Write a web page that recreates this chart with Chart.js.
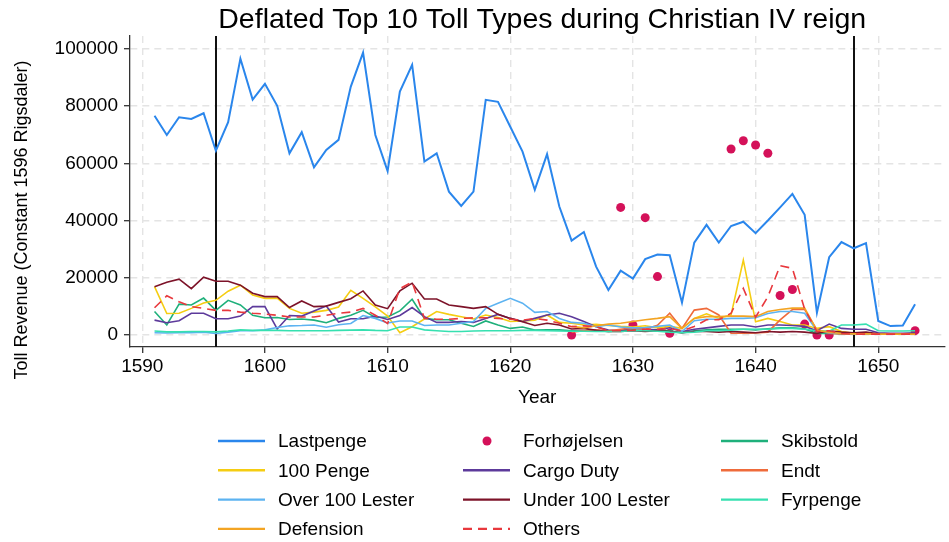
<!doctype html>
<html lang="en">
<head>
  <meta charset="UTF-8">
  <title>Toll Types</title>
  <script src="https://cdn.jsdelivr.net/npm/chart.js"></script>
  <style>
    html, body {
      margin: 0;
      padding: 0;
      background: #fff;
    }

    #chart_01 {
      display: block;
    }
  </style>
</head>
<body>
  <canvas id="chart_01" width="949" height="542"></canvas>
  <script type="application/javascript">
    const years = [
      1591, 1592, 1593, 1594, 1595, 1596, 1597, 1598, 1599, 1600,
      1601, 1602, 1603, 1604, 1605, 1606, 1607, 1608, 1609, 1610,
      1611, 1612, 1613, 1614, 1615, 1616, 1617, 1618, 1619, 1620,
      1621, 1622, 1623, 1624, 1625, 1626, 1627, 1628, 1629, 1630,
      1631, 1632, 1633, 1634, 1635, 1636, 1637, 1638, 1639, 1640,
      1641, 1642, 1643, 1644, 1645, 1646, 1647, 1648, 1649, 1650,
      1651, 1652, 1653
    ]

    const x_ticks = [1590, 1600, 1610, 1620, 1630, 1640, 1650]
    const y_ticks = [0, 20000, 40000, 60000, 80000, 100000]
    const reign_years = [1596, 1648]

    const lastpenge = [
      76600, 69900, 76100, 75500, 77500, 64400, 74400, 96600, 82300, 87800,
      80100, 63500, 70900, 58600, 64700, 68200, 86800, 98700, 69900, 57300,
      85100, 94400, 60600, 63500, 50100, 45100, 50100, 82200, 81500, 72800,
      64100, 50700, 63200, 44900, 33000, 36000, 23900, 15700, 22500, 19700,
      26500, 28100, 27900, 11300, 32300, 38500, 32300, 38100, 39600, 35600,
      40000, 44600, 49300, 42000, 7800, 27200, 32500, 30300, 32100, 4900,
      3100, 3300, 10700
    ]

    const forhojelsen = [
      null, null, null, null, null, null, null, null, null, null,
      null, null, null, null, null, null, null, null, null, null,
      null, null, null, null, null, null, null, null, null, null,
      null, null, null, null, 0, null, null, null, 44600, 3500,
      41000, 20400, 600, null, null, null, null, 65000, 67900, 66400,
      63500, 13800, 15900, 3800, 0, 0, null, null, null, null,
      null, null, 1500
    ]

    const skibstold = [
      8200, 3500, 10800, 10500, 12900, 8600, 12100, 10500, 6900, 6000,
      6100, 5400, 5600, 5200, 4300, 5800, 6900, 8600, 6100, 6300,
      8400, 12500, 5800, 5300, 5300, 4100, 3000, 4900, 3500, 2300,
      2800, 1700, 1800, 1800, 1500, 1500, 1500, 1200, 1500, 1800,
      1500, 1800, 1500, 800, 1500, 1800, 2000, 2000, 2000, 1800,
      2200, 2500, 2500, 2200, 500, 600, 400, 400, 300, 300,
      300, 300, 300
    ]

    const penge_100 = [
      16900, 7500, 7600, 9300, 11200, 12100, 15300, 17400, 14000, 12800,
      12900, 9300, 7600, 8000, 8600, 9800, 15600, 12800, 9800, 6600,
      800, 2900, 5600, 8200, 7200, 6400, 5600, 7000, 6100, 4700,
      4900, 5200, 7000, 4400, 4100, 3500, 3700, 3300, 3000, 2800,
      3200, 2500, 3000, 2300, 5800, 7400, 5800, 7000, 26200, 4600,
      5800, 4700, 3500, 3500, 2300, 2900, 1200, 600, 500, 400,
      400, 400, 500
    ]

    const cargo_duty = [
      5200, 4300, 5000, 7600, 7600, 5700, 5700, 6600, 9900, 9900,
      2100, 6800, 6600, 8400, 10100, 4500, 5700, 5700, 6600, 5400,
      6800, 9600, 6400, 4400, 4400, 4700, 4400, 5800, 7200, 5800,
      4700, 5800, 7000, 7600, 6400, 4700, 2900, 1700, 1500, 2500,
      2000, 1800, 2500, 1200, 2000, 2500, 3000, 3500, 3500, 2800,
      3500, 3500, 3300, 3000, 1500, 3800, 2300, 2000, 2000, 800,
      600, 600, 800
    ]

    const endt = [
      null, null, null, null, null, null, null, null, null, null,
      null, null, null, null, null, null, null, null, null, null,
      null, null, null, null, null, null, null, null, null, null,
      null, null, null, null, 1000, 1500, 1800, 1500, 2000, 2500,
      2000, 3400, 7600, 2300, 8700, 9300, 7000, 600, 600, 700,
      1000, 5300, 8900, 8900, 1800, 600, 400, 300, 300, 300,
      300, 300, 300
    ]

    const over_100_lester = [
      800, 700, 800, 800, 1000, 500, 1000, 1500, 1500, 1800,
      2600, 3200, 3300, 3500, 2700, 3600, 4000, 6800, 5800, 4200,
      4900, 4900, 3300, 3500, 3500, 4100, 4700, 9300, 11100, 12800,
      11100, 7900, 8200, 5800, 4400, 4100, 2900, 3500, 2800, 2500,
      2600, 3000, 3500, 1200, 5000, 5500, 5500, 5800, 5800, 6000,
      7500, 8200, 8200, 7600, 1500, 800, 500, 400, 400, 300,
      300, 300, 400
    ]

    const under_100_lester = [
      16900, 18400, 19500, 16200, 20200, 18800, 18800, 17400, 14600, 13400,
      13400, 9600, 11900, 9900, 10100, 11400, 12700, 15400, 10500, 9200,
      15400, 18100, 12600, 12600, 10500, 9900, 9300, 9900, 7200, 5800,
      4600, 3300, 4100, 3500, 2100, 2300, 1600, 1200, 1200, 1500,
      1200, 1500, 1200, 800, 1200, 1200, 1000, 1200, 1000, 800,
      1200, 1000, 1200, 1000, 500, 1500, 1000, 800, 1000, 400,
      300, 300, 400
    ]

    const fyrpenge = [
      1400, 1100, 1100, 1200, 1200, 1100, 1400, 1800, 1600, 1600,
      1600, 1500, 1500, 1500, 1500, 1600, 1700, 1800, 1600, 1500,
      2800, 2800, 1800, 1500, 1200, 1200, 1400, 1500, 1500, 1500,
      1600, 1600, 1500, 1400, 1300, 1300, 1200, 1200, 1200, 1500,
      1500, 1300, 1000, 800, 1000, 1500, 1500, 1700, 2000, 2000,
      2000, 2300, 2300, 2000, 1500, 1300, 3500, 3500, 3800, 1500,
      1400, 1400, 1500
    ]

    const defension = [
      null, null, null, null, null, null, null, null, null, null,
      null, null, null, null, null, null, null, null, null, null,
      null, null, null, null, null, null, null, null, null, null,
      null, null, null, null, 3000, 2500, 3200, 3800, 4100, 4700,
      5300, 5800, 6400, 2300, 5800, 6400, 6400, 6600, 6600, 6400,
      8200, 8900, 9400, 9400, 1600, 1000, 500, 400, 400, 300,
      300, 300, 300
    ]

    const others = [
      9500, 13700, 11600, 9900, 9300, 8600, 8600, 8000, 7600, 7300,
      6900, 6300, 6300, 6300, 6900, 7600, 8000, 9300, 6900, 4000,
      16200, 18500, 5800, 5500, 5500, 5800, 6000, 6000, 5800, 5500,
      5200, 5800, 5200, 4100, 2900, 3200, 2900, 1500, 1500, 1700,
      2000, 2000, 2300, 1500, 3000, 5300, 5300, 7600, 16300, 6200,
      13400, 24200, 23300, 9000, 1200, 1500, 500, 300, 300, 300,
      300, 300, 300
    ]

    const font_family = '"Liberation Sans", Arial, sans-serif'
    const chart_title = 'Deflated Top 10 Toll Types during Christian IV reign'
    const y_title = 'Toll Revenue (Constant 1596 Rigsdaler)'

    // plotted in this order; the legend reads row by row, three per row
    const series = [
      {label: 'Lastpenge', values: lastpenge, color: '#2a86ec', width: 2},
      {label: 'Forhøjelsen', values: forhojelsen, color: '#d41159', dots: true},
      {label: 'Skibstold', values: skibstold, color: '#1fb07b', width: 1.6},
      {label: '100 Penge', values: penge_100, color: '#f5cd12', width: 1.6},
      {label: 'Cargo Duty', values: cargo_duty, color: '#5d3a9b', width: 1.6},
      {label: 'Endt', values: endt, color: '#ef6b3b', width: 1.6},
      {label: 'Over 100 Lester', values: over_100_lester, color: '#5db3f1', width: 1.6},
      {label: 'Under 100 Lester', values: under_100_lester, color: '#7d1329', width: 1.6},
      {label: 'Fyrpenge', values: fyrpenge, color: '#36e0b0', width: 1.6},
      {label: 'Defension', values: defension, color: '#f3a423', width: 1.6},
      {label: 'Others', values: others, color: '#e8383d', width: 1.6, dash: [9, 6]}
    ]

    const to_points = vals => years.map((x, i) => ({x, y: vals[i]}))

    const datasets = series.map((s, i) => ({
      label: s.label,
      data: to_points(s.values),
      borderColor: s.color,
      backgroundColor: s.color,
      borderWidth: s.width || 0,
      borderDash: s.dash || [],
      showLine: !s.dots,
      pointRadius: s.dots ? 4.5 : 0,
      pointBorderWidth: 0,
      pointBackgroundColor: s.color,
      spanGaps: false,
      tension: 0,
      order: series.length - i
    }))

    // title over the plot region, reign marker lines, y title and the three-column legend
    const extras = {
      id: 'extras',
      beforeDatasetsDraw(chart) {
        const {ctx, chartArea, scales: {x}} = chart
        ctx.save()
        ctx.strokeStyle = '#111'
        ctx.lineWidth = 2
        reign_years.forEach(yr => {
          const px = Math.round(x.getPixelForValue(yr))
          ctx.beginPath()
          ctx.moveTo(px, chartArea.top)
          ctx.lineTo(px, chartArea.bottom)
          ctx.stroke()
        })
        ctx.restore()
      },
      afterDraw(chart) {
        const {ctx, chartArea} = chart
        ctx.save()
        ctx.fillStyle = '#000'
        ctx.font = `28.5px ${font_family}`
        ctx.textAlign = 'center'
        ctx.textBaseline = 'middle'
        ctx.fillText(chart_title, (chartArea.left + chartArea.right) / 2 + 5, 20)

        ctx.font = `18px ${font_family}`
        ctx.translate(22, 220)
        ctx.rotate(-Math.PI / 2)
        ctx.fillText(y_title, 0, 0)
        ctx.restore()

        const sample_x = [218, 463, 721]
        const text_x = [278, 523, 781]
        ctx.save()
        ctx.font = `19px ${font_family}`
        ctx.textBaseline = 'middle'
        ctx.textAlign = 'left'
        series.forEach((s, i) => {
          const col = i % 3
          const row = Math.floor(i / 3)
          const y = 441 + row * 29.3
          if (s.dots) {
            ctx.fillStyle = s.color
            ctx.beginPath()
            ctx.arc(sample_x[col] + 24, y, 4.5, 0, Math.PI * 2)
            ctx.fill()
          } else {
            ctx.strokeStyle = s.color
            ctx.lineWidth = 2.4
            ctx.setLineDash(s.dash || [])
            ctx.beginPath()
            ctx.moveTo(sample_x[col], y)
            ctx.lineTo(sample_x[col] + 47, y)
            ctx.stroke()
            ctx.setLineDash([])
          }
          ctx.fillStyle = '#000'
          ctx.fillText(s.label, text_x[col], y + 1)
        })
        ctx.restore()
      }
    }

    const grid_opts = {
      color: '#e4e4e4',
      lineWidth: 1.4,
      tickLength: 6,
      tickColor: '#333',
      tickWidth: 1.3
    }

    const border_opts = {
      color: '#333',
      width: 1.3,
      dash: [7, 5]
    }

    const config = {
      type: 'line',
      data: {datasets},
      options: {
        responsive: false,
        animation: false,
        devicePixelRatio: 1,
        layout: {
          padding: {top: 36, left: 0, right: 3, bottom: 130}
        },
        plugins: {
          legend: {display: false},
          tooltip: {enabled: false},
          title: {display: false}
        },
        scales: {
          x: {
            type: 'linear',
            min: 1589,
            max: 1655.4,
            afterBuildTicks: scale => {
              scale.ticks = x_ticks.map(value => ({value}))
            },
            afterFit: scale => {
              scale.height = 65
            },
            ticks: {
              color: '#000',
              padding: 2,
              maxRotation: 0,
              font: {family: font_family, size: 19},
              callback: v => String(v)
            },
            grid: grid_opts,
            border: border_opts,
            title: {
              display: true,
              text: 'Year',
              color: '#000',
              font: {family: font_family, size: 19},
              padding: {top: 0, bottom: 3}
            }
          },
          y: {
            min: -4200,
            max: 104500,
            afterBuildTicks: scale => {
              scale.ticks = y_ticks.map(value => ({value}))
            },
            afterFit: scale => {
              scale.width = 130
            },
            ticks: {
              color: '#000',
              padding: 6,
              font: {family: font_family, size: 19},
              callback: v => String(v)
            },
            grid: grid_opts,
            border: border_opts
          }
        }
      },
      plugins: [extras]
    }

    const my_chart = new Chart(
      document.getElementById('chart_01'),
      config
    )
  </script>
</body>
</html>
